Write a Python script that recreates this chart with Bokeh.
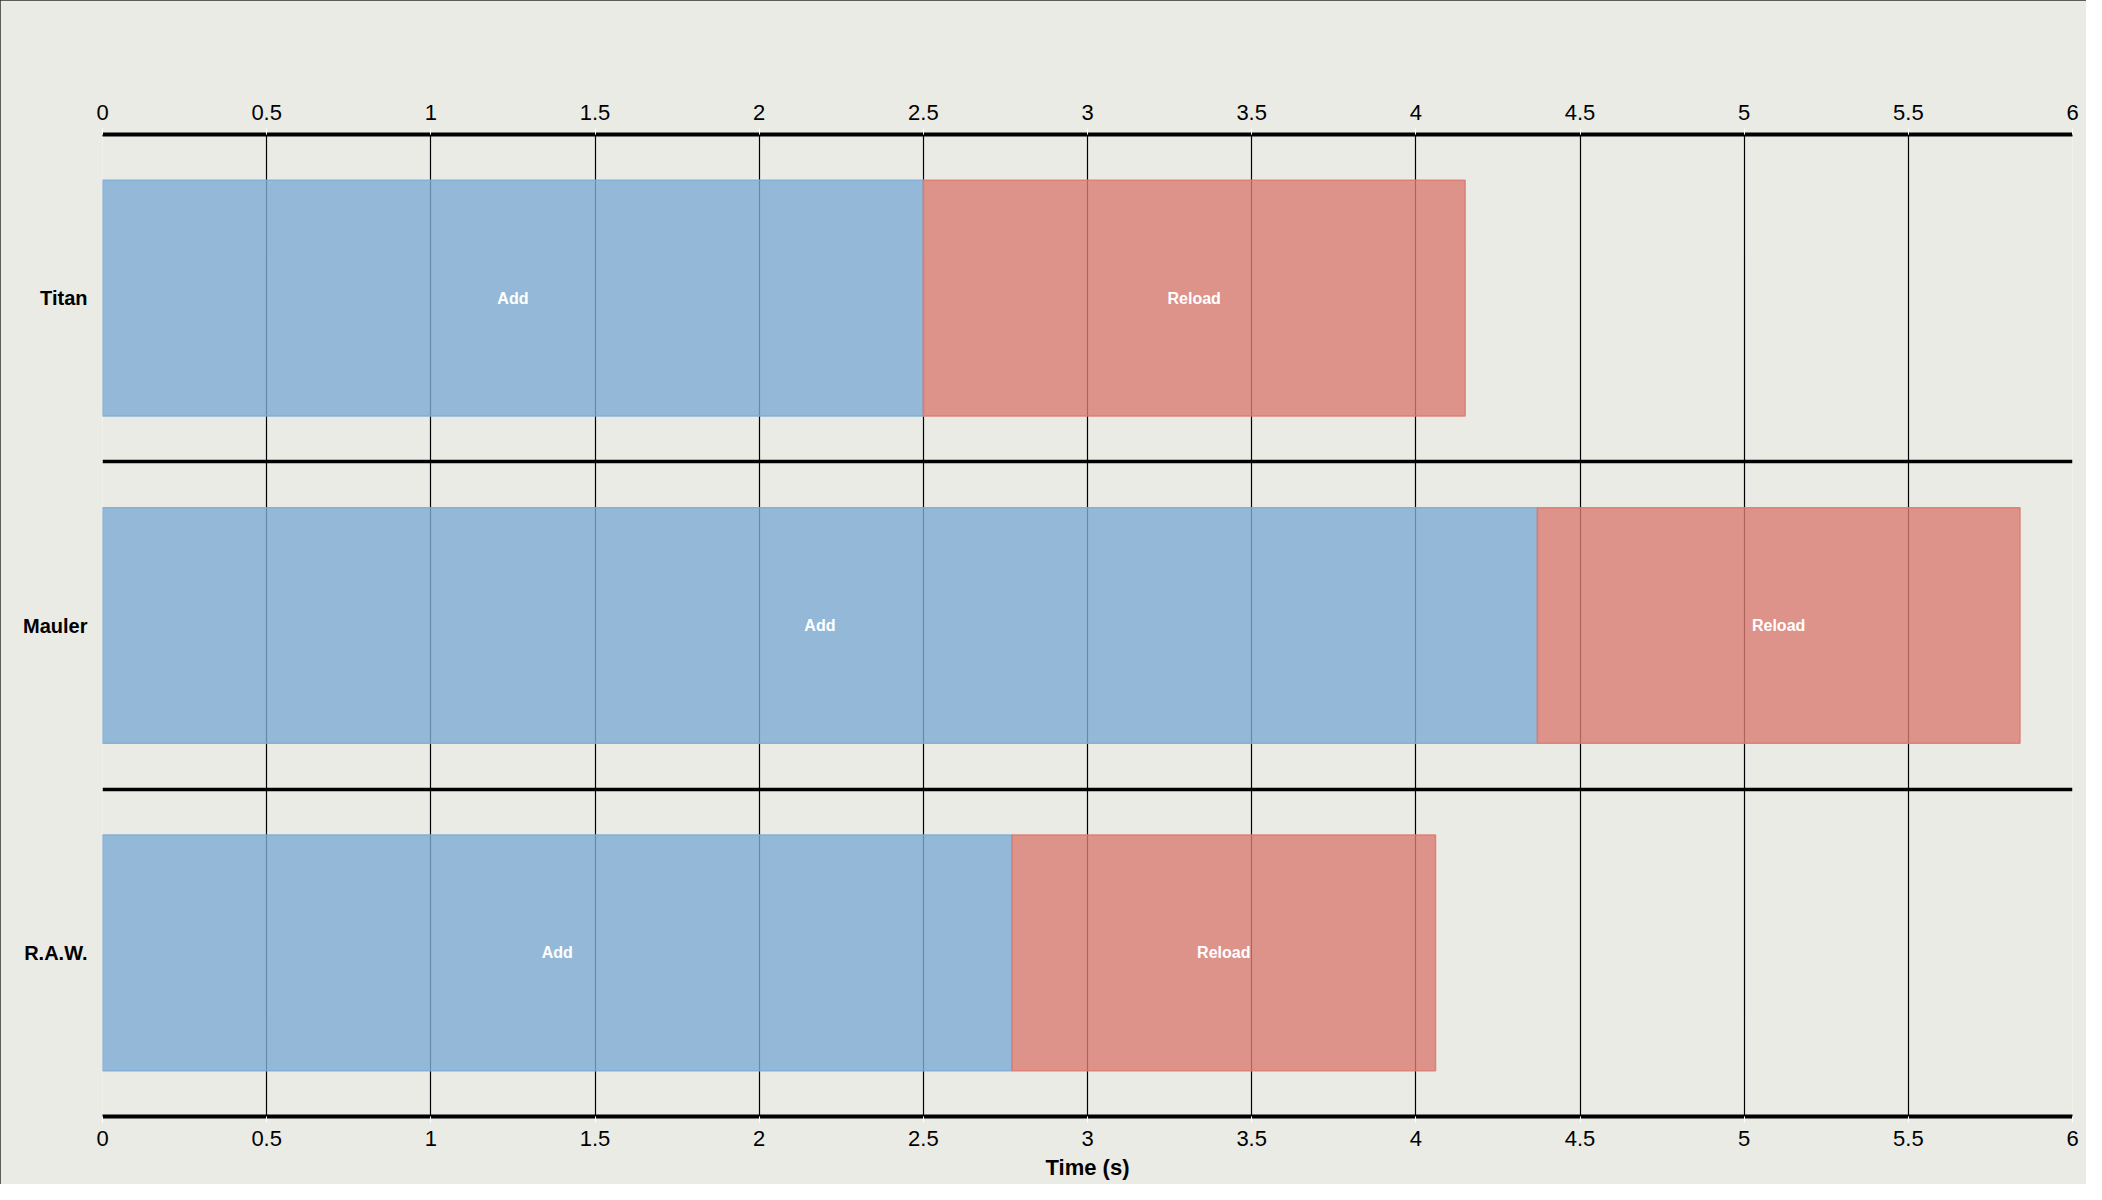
from bokeh.plotting import figure
from bokeh.models import Range1d, FixedTicker, LinearAxis, ColumnDataSource
from bokeh.core.properties import value
from bokeh.embed import file_html
from bokeh.resources import INLINE

# ---- data ----
weapons = ["Titan", "Mauler", "R.A.W."]
add_time = [2.50, 4.37, 2.77]
reload_time = [1.65, 1.47, 1.29]
phase_names = ["Add", "Reload"]
x_ticks = [0, 0.5, 1, 1.5, 2, 2.5, 3, 3.5, 4, 4.5, 5, 5.5, 6]
x_title = "Time (s)"

FONT = "Liberation Sans"
BG = "#EBEBE6"
BLUE = "#7EACD5"
RED = "#DA7C73"

n = len(weapons)
y_pos = [n - i - 0.5 for i in range(n)]
add_end = add_time
reload_end = [a + r for a, r in zip(add_time, reload_time)]

bars = ColumnDataSource(dict(
    y=y_pos,
    add_left=[0] * n,
    add_right=add_end,
    rel_left=add_end,
    rel_right=reload_end,
))
labels = ColumnDataSource(dict(
    x=[a / 2 for a in add_end] + [(a + b) / 2 for a, b in zip(add_end, reload_end)],
    y=y_pos + y_pos,
    text=[phase_names[0]] * n + [phase_names[1]] * n,
))

p = figure(width=2086, height=1184,
           x_range=Range1d(x_ticks[0], x_ticks[-1]), y_range=Range1d(0, n),
           output_backend="svg", toolbar_location=None,
           min_border_left=102, min_border_right=14,
           min_border_top=134, min_border_bottom=68)
p.background_fill_color = BG
p.border_fill_color = BG
p.outline_line_color = None
p.styles = {"outline": "2px solid #2e2e2e", "outline-offset": "-2px"}

# grids
p.xgrid.ticker = FixedTicker(ticks=x_ticks)
p.xgrid.grid_line_color = "black"
p.xgrid.grid_line_width = 1.2
p.ygrid.ticker = FixedTicker(ticks=list(range(n + 1)))
p.ygrid.grid_line_color = "black"
p.ygrid.grid_line_width = 3.5

# bars
p.hbar(y="y", left="add_left", right="add_right", height=0.72, source=bars,
       fill_color=BLUE, fill_alpha=0.8, line_color=BLUE, line_width=1.5, line_alpha=0.9)
p.hbar(y="y", left="rel_left", right="rel_right", height=0.72, source=bars,
       fill_color=RED, fill_alpha=0.8, line_color=RED, line_width=1.5, line_alpha=0.9)

p.text(x="x", y="y", text="text", source=labels,
       text_color="white", text_font=value(FONT), text_font_style="bold",
       text_font_size="16px", text_align="center", text_baseline="middle")

# x axes (bottom + top)
bottom_axis = p.below[0]
top_axis = LinearAxis()
p.add_layout(top_axis, "above")
overrides = {t: f"{t:g}" for t in x_ticks}
for ax in (bottom_axis, top_axis):
    ax.ticker = FixedTicker(ticks=x_ticks)
    ax.major_label_overrides = overrides
    ax.axis_line_color = "black"
    ax.axis_line_width = 4
    ax.major_tick_line_color = "white"
    ax.major_tick_line_width = 1
    ax.major_tick_out = 6
    ax.major_tick_in = 0
    ax.minor_tick_line_color = None
    ax.major_label_text_font = FONT
    ax.major_label_text_font_size = "22px"
    ax.major_label_text_color = "black"
    ax.major_label_standoff = 9
bottom_axis.major_label_standoff = 8
bottom_axis.axis_label = x_title
bottom_axis.axis_label_text_font = FONT
bottom_axis.axis_label_text_font_style = "bold"
bottom_axis.axis_label_text_font_size = "22px"
bottom_axis.axis_label_text_color = "black"
bottom_axis.axis_label_standoff = 6

# y axis with weapon names
ya = p.yaxis[0]
ya.ticker = FixedTicker(ticks=y_pos)
ya.major_label_overrides = {y: w for y, w in zip(y_pos, weapons)}
ya.axis_line_color = None
ya.major_tick_line_color = None
ya.major_tick_out = 0
ya.major_tick_in = 0
ya.minor_tick_line_color = None
ya.major_label_text_font = FONT
ya.major_label_text_font_style = "bold"
ya.major_label_text_font_size = "20px"
ya.major_label_text_color = "black"
ya.major_label_standoff = 15

open("out.html", "w").write(file_html(p, INLINE))
